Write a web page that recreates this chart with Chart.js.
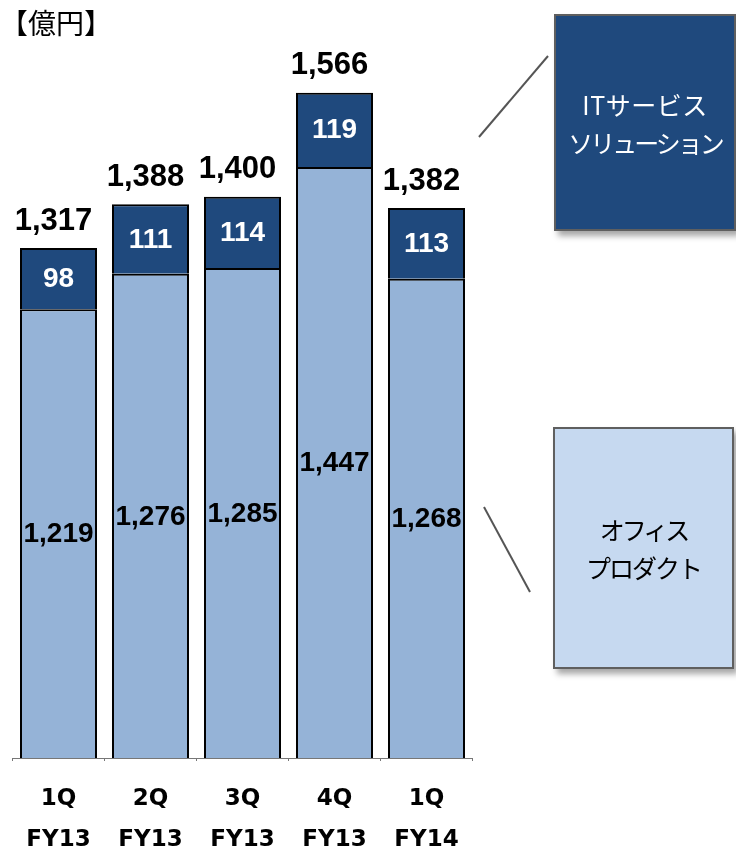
<!DOCTYPE html>
<html>
<head>
<meta charset="utf-8">
<script src="https://cdn.jsdelivr.net/npm/chart.js@4"></script>
<style>
  html, body { margin: 0; padding: 0; background: #fff; overflow: hidden; }
  #wrap { position: relative; width: 736px; height: 849px; }
  #chart { position: absolute; left: 0; top: 0; }
  .unit { position: absolute; left: 0px; top: 2px; font: 28px "Noto Sans CJK JP", sans-serif; color: #000; }
  .box { position: absolute; box-sizing: border-box; border: 2px solid #5f5f5f;
         box-shadow: 4px 5px 6px rgba(0,0,0,0.35);
         display: flex; align-items: center; justify-content: center; text-align: center;
         white-space: nowrap; letter-spacing: -3px;
         font: 25px/38px "Noto Sans CJK JP", sans-serif; }
  .box .wide { letter-spacing: 0.5px; }
  .box .mid { letter-spacing: -2px; }
  #boxIT { left: 554px; top: 14px; width: 182px; height: 217px; background: #1f497d; color: #fff; }
  #boxOP { left: 553px; top: 427px; width: 181px; height: 242px; background: #c6d9f0; color: #000; }
  svg { position: absolute; left: 0; top: 0; }
</style>
</head>
<body>
<div id="wrap">
  <canvas id="chart" width="736" height="849"></canvas>
  <div class="unit">【億円】</div>
  <svg width="736" height="849">
    <line x1="548" y1="56" x2="479" y2="137" stroke="#555" stroke-width="2"/>
    <line x1="484" y1="507" x2="530" y2="592" stroke="#555" stroke-width="2"/>
  </svg>
  <div class="box" id="boxIT"><div><span class="wide">ITサービス</span><br>ソリューション</div></div>
  <div class="box" id="boxOP"><div>オフィス<br><span class="mid">プロダクト</span></div></div>
</div>
<script>
// quarterly sales, 100M yen
const categories = [['1Q', 'FY13'], ['2Q', 'FY13'], ['3Q', 'FY13'], ['4Q', 'FY13'], ['1Q', 'FY14']];
const officeProducts = [1219, 1276, 1285, 1447, 1268];
const itServices = [98, 111, 114, 119, 113];
const totals = [1317, 1388, 1400, 1566, 1382];

const fmt = v => v.toLocaleString('en-US');

// value labels inside segments and totals above bars
const labelPlugin = {
  id: 'labels',
  afterDatasetsDraw(chart) {
    const ctx = chart.ctx;
    const y = chart.scales.y;
    const area = chart.chartArea;
    ctx.save();
    ctx.textAlign = 'center';
    ctx.textBaseline = 'middle';
    chart.getDatasetMeta(0).data.forEach((bar, i) => {
      const top = y.getPixelForValue(officeProducts[i]);
      ctx.fillStyle = '#000';
      ctx.font = 'bold 28px "Liberation Sans", Arial, sans-serif';
      ctx.fillText(fmt(officeProducts[i]), bar.x, (top + area.bottom) / 2 + 1);
    });
    chart.getDatasetMeta(1).data.forEach((bar, i) => {
      const bottom = y.getPixelForValue(officeProducts[i]);
      const top = y.getPixelForValue(officeProducts[i] + itServices[i]);
      ctx.fillStyle = '#fff';
      ctx.font = 'bold 28px "Liberation Sans", Arial, sans-serif';
      ctx.fillText(fmt(itServices[i]), bar.x, (top + bottom) / 2 + 1);
      ctx.fillStyle = '#000';
      ctx.font = 'bold 31px "Liberation Sans", Arial, sans-serif';
      ctx.fillText(fmt(totals[i]), bar.x - 5, top - 27);
    });
    ctx.restore();
  }
};

new Chart(document.getElementById('chart'), {
  type: 'bar',
  data: {
    labels: categories,
    datasets: [
      {
        label: 'オフィスプロダクト',
        data: officeProducts,
        backgroundColor: '#95b3d7',
        borderColor: '#000',
        borderWidth: { top: 2, left: 2, right: 2, bottom: 2 },
        borderSkipped: false
      },
      {
        label: 'ITサービスソリューション',
        data: itServices,
        backgroundColor: '#1f497d',
        borderColor: '#000',
        borderWidth: { top: 2, left: 2, right: 2, bottom: 0 },
        borderSkipped: false
      }
    ]
  },
  options: {
    responsive: false,
    animation: false,
    layout: { padding: { left: 12.5, right: 263.5, top: 9, bottom: 0 } },
    datasets: { bar: { barPercentage: 0.837, categoryPercentage: 1 } },
    plugins: { legend: { display: false }, tooltip: { enabled: false } },
    scales: {
      x: {
        stacked: true,
        grid: { drawOnChartArea: false, offset: true, tickLength: 3, color: '#777' },
        border: { color: '#777', width: 1 },
        ticks: {
          color: '#000',
          padding: 17,
          font: { family: '"DejaVu Sans", Verdana, sans-serif', size: 23, weight: 'bold', lineHeight: 1.8 }
        },
        afterFit(scale) { scale.height = 91; }
      },
      y: {
        stacked: true,
        display: false,
        min: 500,
        max: 1700
      }
    }
  },
  plugins: [labelPlugin]
});
</script>
</body>
</html>
